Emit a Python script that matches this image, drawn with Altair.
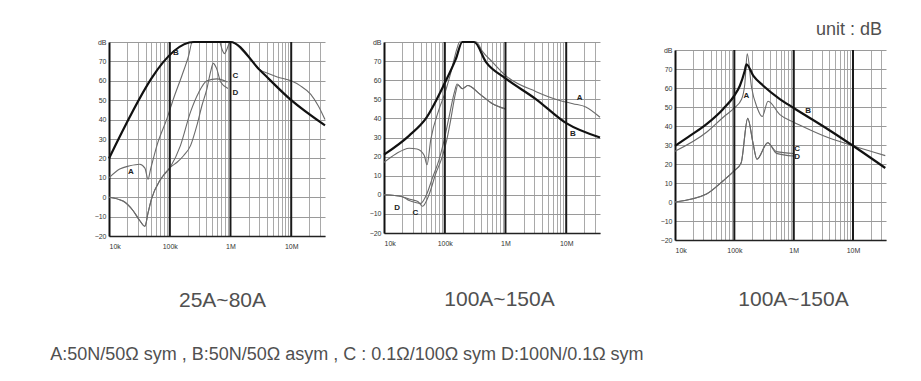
import altair as alt
import pandas as pd

FONT = "Liberation Sans"
TXT = "#505050"

# ---------------- Panel 1 : 25A~80A ----------------
p1_A_f = [1e4, 1.5e4, 2.2e4, 3.2e4, 3.9e4, 4.4e4, 4.8e4, 6.2e4, 9e4, 1.16e5, 1.6e5, 2.05e5, 2.35e5,
          6.6e5, 7.3e5, 8e5, 8.8e5, 9.6e5, 1e6, 2e6, 3.1e6, 4e6, 5.9e6, 1e7, 1.4e7, 2.1e7, 2.8e7, 3.6e7]
p1_A_db = [10, 14.5, 16.2, 17, 15, 9.3, 14, 27, 40.5, 51, 63, 73, 80,
           80, 76, 74, 76.5, 79.5, 80, 72, 65.5, 64, 62, 60, 57.5, 53, 47, 40]
p1_B_f = [1e4, 2.5e5, 1e6, 3.1e6, 1e7, 3.6e7]
p1_B_db = [20, 80, 80, 65.3, 50, 37]
p1_C_f = [1e4, 1.7e4, 2.5e4, 3.2e4, 3.9e4, 4.4e4, 5e4, 7e4, 1.02e5, 1.5e5, 2.2e5, 3e5, 4.1e5, 6e5, 8.9e5]
p1_C_db = [0, -2, -7, -12, -15, -8, -1, 9, 15.4, 26.6, 44, 54, 60, 61, 59.4]
p1_D_f = [1e4, 1.7e4, 2.5e4, 3.2e4, 3.9e4, 4.4e4, 5e4, 7e4, 1.02e5, 1.32e5, 1.7e5, 2.2e5, 2.8e5,
          3.4e5, 4.1e5, 4.7e5, 5.2e5, 5.9e5, 6.9e5, 9.1e5]
p1_D_db = [0, -2, -7, -12, -15, -8, -1, 9, 15.4, 18, 21.5, 26.6, 37, 47.4, 56, 64.6, 69, 66.4, 59.4, 56]
p1_lab = ["A", "B", "C", "D"]
p1_lab_f = [2.3e4, 1.26e5, 1.2e6, 1.2e6]
p1_lab_db = [13, 74.5, 62.5, 53.5]

# ---------------- Panel 2 : 100A~150A ----------------
p2_A_f = [1e4, 1.56e4, 2.6e4, 3.5e4, 4.6e4, 5.1e4, 5.9e4, 8.1e4, 1e5, 1.26e5, 1.59e5, 1.75e5, 3.3e5,
          4.2e5, 6.1e5, 1e6, 3.2e6, 7.8e6, 1.29e7, 2.1e7, 3.6e7]
p2_A_db = [17, 21.4, 24.4, 24, 20.6, 15.7, 29, 45, 53, 64, 76.5, 80, 80,
           75, 69.5, 62.5, 54, 49.4, 47.7, 46, 40.6]
p2_B_f = [1e4, 2.6e4, 4.9e4, 1e5, 1.52e5, 1.95e5, 3.05e5, 4.78e5, 1e6, 3.2e6, 1e7, 3.6e7]
p2_B_db = [21, 31, 40, 58.5, 71, 80, 80, 69.5, 61, 50, 37.5, 30]
p2_C_f = [1e4, 2e4, 2.8e4, 3.6e4, 4.3e4, 5.5e4, 7.1e4, 9e4, 1.05e5, 1.25e5, 1.5e5, 1.65e5, 1.95e5,
          2.4e5, 3.7e5, 6.1e5, 1e6]
p2_C_db = [0, -1, -2.5, -3.5, -6, 0, 11, 19.5, 27, 39, 53, 57.5, 55.5, 57.2, 53, 47.7, 45]
p2_D_f = [1e4, 2e4, 2.6e4, 3.3e4, 4e4, 5e4, 6.3e4, 8e4, 1e5, 1.2e5, 1.45e5, 1.6e5, 1.95e5,
          2.4e5, 3.7e5, 6.1e5, 1e6]
p2_D_db = [0, -1, -3, -4, -4.5, 0, 9, 18, 30, 42, 54, 58, 55.5, 57.2, 53, 47.7, 45]
p2_lab = ["A", "B", "C", "D"]
p2_lab_f = [1.66e7, 1.29e7, 3.3e4, 1.65e4]
p2_lab_db = [50.5, 32, -9.5, -7]

# ---------------- Panel 3 : 100A~150A ----------------
p3_A_f = [1e4, 3.4e4, 6.5e4, 1e5, 1.33e5, 1.5e5, 1.65e5, 1.95e5, 2.4e5, 2.95e5, 3.7e5, 5.85e5,
          1e6, 1.26e6, 3.1e6, 1e7, 3.5e7]
p3_A_db = [26.7, 36.7, 44.6, 49.5, 54.2, 62, 78, 60.4, 50, 45, 53, 46, 42, 40.5, 35, 29.6, 24.4]
p3_B_f = [1e4, 1.8e4, 3.4e4, 6.5e4, 1e5, 1.24e5, 1.5e5, 1.6e5, 2.08e5, 3.07e5, 5.84e5, 1e6, 3.1e6,
          1e7, 3.5e7]
p3_B_db = [29.5, 34.9, 41, 49, 56, 61.2, 69.1, 72.5, 66.5, 61.2, 54.2, 49.5, 40, 29.6, 17.9]
p3_C_f = [1e4, 3.4e4, 6.5e4, 1e5, 1.3e5, 1.68e5, 2.08e5, 2.4e5, 3.66e5, 5.13e5, 1e6]
p3_C_db = [0, 4.2, 11.2, 16.5, 20.5, 44, 30.5, 22.5, 31.2, 26.5, 25.5]
p3_D_f = [1e4, 3.4e4, 6.5e4, 1e5, 1.3e5, 1.68e5, 2.08e5, 2.4e5, 3.66e5, 5.13e5, 1e6]
p3_D_db = [0, 4.2, 11.2, 16.5, 20.5, 44, 30.5, 22.5, 31.2, 25.6, 24.2]
p3_lab = ["A", "B", "C", "D"]
p3_lab_f = [1.6e5, 1.75e6, 1.15e6, 1.15e6]
p3_lab_db = [56, 48, 28, 23.5]

captions = ["25A~80A", "100A~150A", "100A~150A"]
footer = "A:50N/50Ω sym , B:50N/50Ω asym , C : 0.1Ω/100Ω sym  D:100N/0.1Ω sym"
unit_text = "unit : dB"

y_ticks = [-20, -10, 0, 10, 20, 30, 40, 50, 60, 70, 80]
decades = [1e5, 1e6, 1e7]
x_grid = [m * 10 ** e for e in range(4, 8) for m in range(1, 10) if m * 10 ** e <= 3.6e7]
X_MAX = 3.6e7


def curves_df(series):
    rows = []
    for name, fs, dbs in series:
        for i, (f, d) in enumerate(zip(fs, dbs)):
            rows.append({"s": name, "f": f, "db": d, "i": i})
    return pd.DataFrame(rows)


label_expr = ("datum.value == 10000 ? '10k' : datum.value == 100000 ? '100k' : "
              "datum.value == 1000000 ? '1M' : datum.value == 10000000 ? '10M' : ''")


def panel(series, labs, labf, labdb, caption, w, h, cap_x, cap_y, top_title=None):
    df = curves_df(series)
    xs = alt.Scale(type="log", domain=[1e4, X_MAX], nice=False)
    ys = alt.Scale(domain=[-20, 80], nice=False)
    xax = alt.Axis(values=x_grid, tickCount=len(x_grid), grid=True, gridColor="#a9a9a9",
                   gridWidth=1, ticks=False,
                   labelExpr=label_expr, labelFontSize=7, labelColor="#333", labelFont=FONT,
                   labelOverlap=False, labelPadding=6, domainColor="#222", domainWidth=1.5,
                   title=caption, titleFont=FONT, titleFontSize=21, titleFontWeight="normal",
                   titleColor=TXT, titleAlign="center", titleBaseline="alphabetic",
                   titleX=cap_x, titleY=cap_y)
    yax = alt.Axis(values=y_ticks, tickCount=len(y_ticks), grid=True, gridColor="#9a9a9a",
                   gridWidth=1, ticks=False,
                   labelExpr="datum.value == 80 ? 'dB' : datum.label", labelFontSize=7,
                   labelColor="#333", labelFont=FONT, labelPadding=3, labelOverlap=False,
                   domainColor="#111", domainWidth=2, title=None)
    X = alt.X("f:Q", scale=xs, axis=xax)
    Y = alt.Y("db:Q", scale=ys, axis=yax)

    base = alt.Chart(df)
    thin = base.transform_filter(alt.datum.s != "B").mark_line(
        color="#6a6a6a", strokeWidth=1.1, interpolate="monotone"
    ).encode(x=X, y=Y, detail="s:N", order="i:Q")
    thick = base.transform_filter(alt.datum.s == "B").mark_line(
        color="#111", strokeWidth=2.2, interpolate="monotone"
    ).encode(x=X, y=Y, order="i:Q")

    rules = alt.Chart(pd.DataFrame({"f": decades})).mark_rule(
        color="#1a1a1a", strokeWidth=2
    ).encode(x=X)

    labels = alt.Chart(pd.DataFrame({"t": labs, "f": labf, "db": labdb})).mark_text(
        font=FONT, fontSize=8, fontWeight="bold", color="#222"
    ).encode(x=X, y=Y, text="t:N")

    props = dict(width=w, height=h)
    if top_title is not None:
        props["title"] = top_title
    return alt.layer(thin, rules, thick, labels).properties(**props)


p1 = panel([("A", p1_A_f, p1_A_db), ("B", p1_B_f, p1_B_db), ("C", p1_C_f, p1_C_db), ("D", p1_D_f, p1_D_db)],
           p1_lab, p1_lab_f, p1_lab_db, captions[0], 216, 194, 113, 70)
p2 = panel([("A", p2_A_f, p2_A_db), ("B", p2_B_f, p2_B_db), ("C", p2_C_f, p2_C_db), ("D", p2_D_f, p2_D_db)],
           p2_lab, p2_lab_f, p2_lab_db, captions[1], 216, 191, 115, 72,
           alt.TitleParams(" ", orient="top", anchor="end", frame="group", fontSize=8, offset=0, dx=21))
p3 = panel([("A", p3_A_f, p3_A_db), ("B", p3_B_f, p3_B_db), ("C", p3_C_f, p3_C_db), ("D", p3_D_f, p3_D_db)],
           p3_lab, p3_lab_f, p3_lab_db, captions[2], 211, 190, 118, 65)

spacer = alt.Chart(pd.DataFrame({"v": [0]})).mark_point(opacity=0, size=0).encode(
    x=alt.value(0), y=alt.value(0)
).properties(
    width=211, height=1,
    title=alt.TitleParams(unit_text, orient="top", anchor="end", frame="group", fontSize=18,
                          font=FONT, fontWeight="normal", color=TXT, offset=3, dx=-4),
)

right = alt.vconcat(spacer, p3, spacing=3)

chart = alt.hconcat(p1, p2, right, spacing=39).properties(
    padding={"left": 42, "top": 13, "right": 5, "bottom": 5},
    title=alt.TitleParams(footer, orient="bottom", anchor="start", fontSize=18, font=FONT,
                          fontWeight="normal", color=TXT, baseline="alphabetic", offset=50, dx=-44),
).configure_view(stroke=None)

chart.save("out.html", embed_options={"renderer": "svg", "actions": False})
